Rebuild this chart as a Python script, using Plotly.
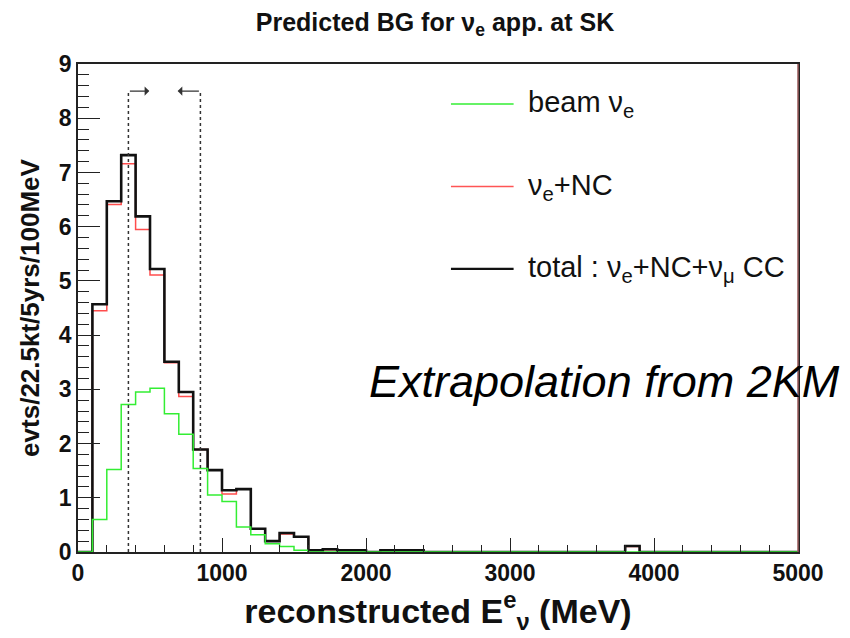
import plotly.graph_objects as go

# ---- data (events per 100 MeV bin, bins 0-100 ... 4900-5000 MeV) ----
bin_width = 100
bin_lo_edges = [i * bin_width for i in range(50)]

beam_nue = [0.00, 0.60, 1.52, 2.72, 2.95, 3.02, 2.55, 2.17, 1.54, 1.05,
            0.93, 0.46, 0.32, 0.15, 0.10, 0.03, 0.00, 0.00, 0.00, 0.00,
            0.00, 0.00, 0.00, 0.00, 0.00, 0.00, 0.00, 0.00, 0.00, 0.00,
            0.00, 0.00, 0.00, 0.00, 0.00, 0.00, 0.00, 0.00, 0.00, 0.00,
            0.00, 0.00, 0.00, 0.00, 0.00, 0.00, 0.00, 0.00, 0.00, 0.00]

nue_nc = [0.00, 4.45, 6.41, 7.16, 5.95, 5.11, 3.49, 2.87, 1.89, 1.51,
          1.07, 1.16, 0.43, 0.20, 0.33, 0.28, 0.03, 0.04, 0.03, 0.03,
          0.00, 0.03, 0.03, 0.03, 0.00, 0.00, 0.00, 0.00, 0.00, 0.00,
          0.00, 0.00, 0.00, 0.00, 0.00, 0.00, 0.00, 0.00, 0.10, 0.00,
          0.00, 0.00, 0.00, 0.00, 0.00, 0.00, 0.00, 0.00, 0.00, 0.00]

total = [0.00, 4.57, 6.47, 7.32, 6.19, 5.22, 3.51, 2.95, 1.89, 1.51,
         1.14, 1.16, 0.43, 0.20, 0.35, 0.28, 0.03, 0.05, 0.03, 0.03,
         0.00, 0.03, 0.03, 0.03, 0.00, 0.00, 0.00, 0.00, 0.00, 0.00,
         0.00, 0.00, 0.00, 0.00, 0.00, 0.00, 0.00, 0.00, 0.11, 0.00,
         0.00, 0.00, 0.00, 0.00, 0.00, 0.00, 0.00, 0.00, 0.00, 0.00]

cut_low = 350
cut_high = 850
cut_top = 8.5
arrow_low_end = 495
arrow_high_end = 692

legend_labels = ["beam ν<sub>e</sub>", "ν<sub>e</sub>+NC",
                 "total : ν<sub>e</sub>+NC+ν<sub>μ</sub> CC"]
legend_colors = ["#33ee33", "#ff5555", "#111111"]
legend_y = [8.26, 6.74, 5.22]

FONT = "Liberation Sans, Arial, Helvetica, sans-serif"


def step_xy(vals):
    xs = bin_lo_edges + [bin_lo_edges[-1] + bin_width]
    ys = list(vals) + [vals[-1]]
    return xs, ys


fig = go.Figure()
for vals, col, w in [(nue_nc, "#ff4d4d", 1.5), (total, "#111111", 2.6),
                     (beam_nue, "#33ee33", 1.5)]:
    xs, ys = step_xy(vals)
    fig.add_trace(go.Scatter(x=xs, y=ys, mode="lines", line_shape="hv",
                             line=dict(color=col, width=w), showlegend=False,
                             hoverinfo="skip", cliponaxis=False))

# dashed cut lines
for xc in (cut_low, cut_high):
    fig.add_shape(type="line", x0=xc, x1=xc, y0=0, y1=cut_top, xref="x", yref="y",
                  line=dict(color="#333333", width=1.5, dash="3px,3px"))
# arrows
fig.add_annotation(x=arrow_low_end, y=cut_top, ax=cut_low, ay=cut_top,
                   xref="x", yref="y", axref="x", ayref="y", showarrow=True,
                   arrowhead=1, arrowsize=1.2, arrowwidth=1.3, arrowcolor="#333333", text="")
fig.add_annotation(x=arrow_high_end, y=cut_top, ax=cut_high, ay=cut_top,
                   xref="x", yref="y", axref="x", ayref="y", showarrow=True,
                   arrowhead=1, arrowsize=1.2, arrowwidth=1.3, arrowcolor="#333333", text="")

# legend (drawn manually)
for lab, col, ly in zip(legend_labels, legend_colors, legend_y):
    fig.add_shape(type="line", x0=2590, x1=3025, y0=ly, y1=ly, xref="x", yref="y",
                  line=dict(color=col, width=1.5 if col != "#111111" else 2.2))
    fig.add_annotation(x=3110, y=ly, xref="x", yref="y", text=lab, showarrow=False,
                       xanchor="left", yanchor="middle",
                       font=dict(family=FONT, size=29, color="#111111"))

fig.add_annotation(x=2010, y=3.15, xref="x", yref="y", text="<i>Extrapolation from 2KM</i>",
                   showarrow=False, xanchor="left", yanchor="middle",
                   font=dict(family=FONT, size=45, color="#000000"))

# right frame colored
fig.add_shape(type="line", x0=1, x1=1, y0=0, y1=1, xref="paper", yref="paper",
              line=dict(color="#9a5a5a", width=1.5))

fig.update_layout(
    width=842, height=630,
    margin=dict(l=70, r=52, t=56, b=86),
    paper_bgcolor="white", plot_bgcolor="white",
    title=dict(text="<b>Predicted BG for ν<sub>e</sub> app. at SK</b>",
               x=427 / 842, xanchor="center", y=1 - 14 / 630, yanchor="middle",
               font=dict(family=FONT, size=25, color="#111111")),
    xaxis=dict(range=[0, 5000], showgrid=False, zeroline=False, automargin=False,
               showline=True, linecolor="#222222", linewidth=1.5, mirror=True,
               ticks="inside", ticklen=14, tickwidth=1, tickcolor="#222222",
               dtick=1000, tick0=0,
               minor=dict(dtick=200, ticklen=7, ticks="inside", tickcolor="#222222"),
               tickfont=dict(family=FONT, size=23, color="#111111", weight="bold"),
               title=dict(text="<b>reconstructed E<sup>e</sup><sub>ν</sub> (MeV)</b>",
                          font=dict(family=FONT, size=34, color="#111111"),
                          standoff=12)),
    yaxis=dict(range=[0, 9], showgrid=False, zeroline=False, automargin=False,
               showline=True, linecolor="#222222", linewidth=1.5, mirror=True,
               ticks="inside", ticklen=22, tickwidth=1, tickcolor="#222222",
               dtick=1, tick0=0,
               minor=dict(dtick=0.2, ticklen=11, ticks="inside", tickcolor="#222222"),
               tickfont=dict(family=FONT, size=23, color="#111111", weight="bold"),
               title=dict(text="<b>evts/22.5kt/5yrs/100MeV</b>",
                          font=dict(family=FONT, size=26, color="#111111"),
                          standoff=12)),
)

fig.write_html("out.html")
